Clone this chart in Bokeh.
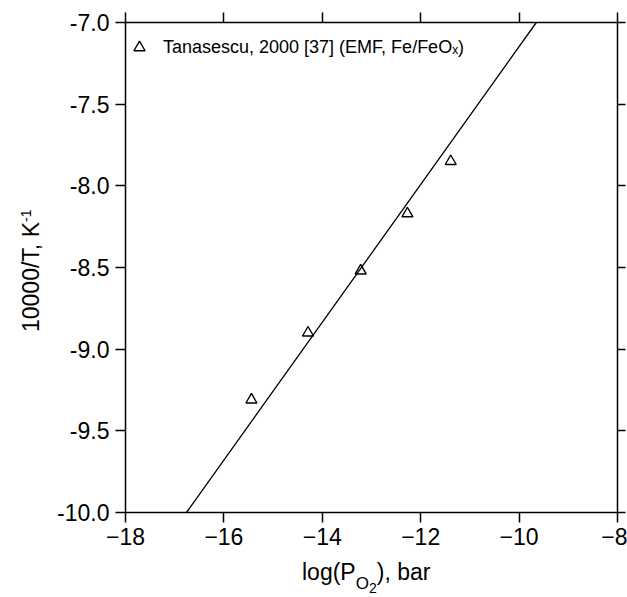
from bokeh.plotting import figure
from bokeh.layouts import row, column
from bokeh.models import (Range1d, LinearAxis, FixedTicker, NumeralTickFormatter,
                          Legend, LegendItem, Div)
from bokeh.embed import file_html
from bokeh.resources import INLINE

# ---- data ----
log_po2 = [-15.44, -14.29, -13.22, -12.27, -11.39]
inv_T = [-9.31, -8.90, -8.52, -8.17, -7.85]
fit_x = [-16.76, -9.65]
fit_y = [-10.0, -7.0]
x_ticks = [-18, -16, -14, -12, -10, -8]
y_ticks = [-10.0, -9.5, -9.0, -8.5, -8.0, -7.5, -7.0]
legend_label = "Tanasescu, 2000 [37] (EMF, Fe/FeOₓ)"

FONT = "Liberation Sans"
TICK_FS = "23px"

YDIV_W = 45
FIG_W, FIG_H = 582, 557
XDIV_H = 40

p = figure(width=FIG_W, height=FIG_H, output_backend="svg", toolbar_location=None,
           x_range=Range1d(-18, -8), y_range=Range1d(-10, -7),
           min_border_left=80, min_border_right=10, min_border_top=22,
           min_border_bottom=45, margin=0)
p.grid.visible = False
p.outline_line_color = None
p.background_fill_color = "white"
p.border_fill_color = "white"

def style_axis(ax, labels=True, tick_out=10):
    ax.axis_line_color = "black"
    ax.axis_line_width = 1.5
    ax.major_tick_line_color = "black"
    ax.major_tick_line_width = 1.5
    ax.major_tick_out = tick_out
    ax.major_tick_in = 0
    ax.minor_tick_line_color = None
    ax.major_label_text_font = FONT
    if labels:
        ax.major_label_text_font_size = TICK_FS
        ax.major_label_text_color = "black"
    else:
        ax.major_label_text_font_size = "1px"
        ax.major_label_text_color = None
        ax.major_label_standoff = 0

p.xaxis.ticker = FixedTicker(ticks=x_ticks)
p.yaxis.ticker = FixedTicker(ticks=y_ticks)
p.yaxis.formatter = NumeralTickFormatter(format="0.0")
style_axis(p.xaxis[0])
style_axis(p.yaxis[0])
p.xaxis.major_label_standoff = 5
p.yaxis.major_label_standoff = 6

top = LinearAxis(ticker=FixedTicker(ticks=x_ticks))
right = LinearAxis(ticker=FixedTicker(ticks=y_ticks))
style_axis(top, labels=False)
style_axis(right, labels=False, tick_out=8)
p.add_layout(top, "above")
p.add_layout(right, "right")

# ---- glyphs ----
p.line(fit_x, fit_y, line_color="black", line_width=1.3)
pts = p.scatter(log_po2, inv_T, marker="triangle", size=11,
                fill_color=None, line_color="black", line_width=1.4)

legend = Legend(items=[LegendItem(label=legend_label, renderers=[pts])],
                location="top_left", margin=0, padding=17,
                glyph_width=28, glyph_height=50, label_standoff=10,
                label_text_font=FONT, label_text_font_size="18px",
                label_text_color="black",
                border_line_color=None, background_fill_alpha=0)
p.add_layout(legend)

# ---- axis titles as HTML text (sub/superscripts) ----
base = f"font-family:'{FONT}'; font-size:23px; line-height:23px; color:black; white-space:nowrap;"

x_html = (
    f'<div style="position:relative; width:{FIG_W}px; height:{XDIV_H}px;">'
    f'<div style="position:absolute; left:{302 - YDIV_W}px; top:4px; {base}">'
    'log(P<span style="font-size:17px; vertical-align:-9px;">O'
    '<span style="font-size:14px; vertical-align:-4px;">2</span></span>), bar'
    '</div></div>'
)
y_html = (
    f'<div style="position:relative; width:{YDIV_W}px; height:{FIG_H + XDIV_H}px;">'
    f'<div style="position:absolute; left:15px; top:332px; transform:rotate(-90deg); '
    f'transform-origin:left top; {base}">'
    '10000/T, K<span style="font-size:14px; vertical-align:8px;">-1</span>'
    '</div></div>'
)

xdiv = Div(text=x_html, width=FIG_W, height=XDIV_H, margin=0)
ydiv = Div(text=y_html, width=YDIV_W, height=FIG_H + XDIV_H, margin=0)

layout = row(ydiv, column(p, xdiv, spacing=0), spacing=0)

open("out.html", "w").write(file_html(layout, INLINE))
